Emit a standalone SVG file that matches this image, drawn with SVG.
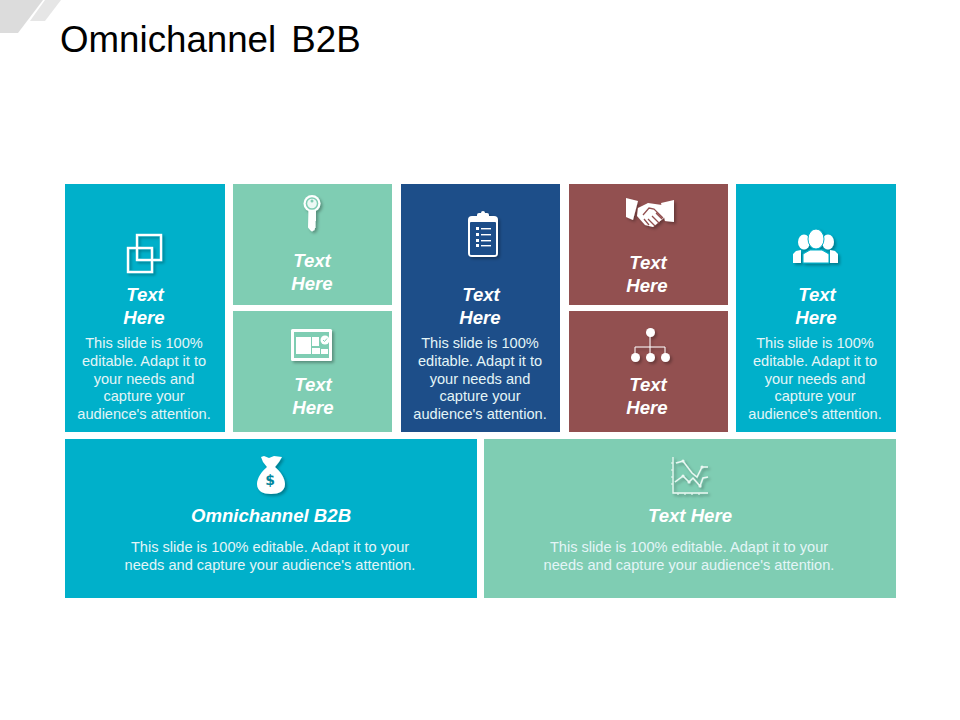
<svg xmlns="http://www.w3.org/2000/svg" width="960" height="720" viewBox="0 0 960 720">
<style>
text{font-family:"Liberation Sans",Arial,sans-serif;text-anchor:middle;fill:#fff}
.h{font-size:18.600px;font-weight:bold;font-style:italic}
.b{font-size:14.600px;fill:#e4f5f7}
.teal{fill:#00b0ca}.green{fill:#7fcdb3}.blue{fill:#1d4e89}.red{fill:#925050}
.ic{filter:url(#sh)}
.ol{fill:none;stroke:#fff}
</style>
<defs>
<filter id="sh" x="-30%" y="-30%" width="170%" height="170%"><feDropShadow dx="2" dy="2" stdDeviation="1.600" flood-color="#000" flood-opacity="0.3"/></filter>
</defs>
<rect width="960" height="720" fill="#fff"/>
<g id="corner">
<polygon points="0,0 43,0 18,33 0,33" fill="#dcdcdc"/>
<polygon points="45,0 61,0 45,21 30,21" fill="#e6e6e6"/>
</g>
<text id="title" x="60" y="52" style="text-anchor:start;fill:#000;font-size:36.700px;word-spacing:5px">Omnichannel B2B</text>

<g id="card-1">
<rect class="teal" x="65" y="184" width="160" height="248"/>
<g class="ic ol" stroke-width="2.400"><rect x="128" y="248" width="24" height="24"/><rect x="137" y="235" width="24" height="25"/></g>
<text class="h" x="145" y="301">Text</text><text class="h" x="144" y="324">Here</text>
<text class="b" x="144" y="348">This slide is 100%</text><text class="b" x="144" y="366">editable. Adapt it to</text><text class="b" x="144" y="384">your needs and</text><text class="b" x="144" y="401">capture your</text><text class="b" x="144" y="419">audience's attention.</text>
</g>

<g id="card-2">
<rect class="green" x="233" y="184" width="159" height="121"/>
<g class="ic"><path fill="#fff" d="M308.500 208h7.500v13l-1 1 1 1-1 1 1 1-1 1 1 1-1 1-.5 2-2.500 1.500-1.500-1-2.500-3z"/><circle cx="312" cy="203.500" r="8.500" fill="#fff"/><circle cx="312" cy="203.500" r="6.300" fill="#7fcdb3"/><circle cx="312" cy="203.500" r="4.800" fill="#eef9f5"/><circle cx="312" cy="201" r="1.500" fill="#7fcdb3"/></g>
<text class="h" x="312" y="267">Text</text><text class="h" x="312" y="290">Here</text>
</g>

<g id="card-3">
<rect class="green" x="233" y="311" width="159" height="121"/>
<g class="ic"><rect x="291" y="329" width="41" height="32" rx="1.500" fill="#fff"/><rect x="294" y="332" width="35" height="26" fill="#7fcdb3"/><rect x="296" y="337" width="15" height="17" fill="#fff"/><rect x="312" y="337" width="7" height="9" fill="#fff"/><rect x="312" y="348" width="8" height="6" fill="#fff"/><rect x="321" y="349" width="7" height="5" fill="#fff"/><circle cx="325" cy="340" r="4.500" fill="#fff"/><path d="M323 340l1.500 1.500 2.500-3" fill="none" stroke="#7fcdb3" stroke-width="1"/></g>
<text class="h" x="313" y="391">Text</text><text class="h" x="313" y="414">Here</text>
</g>

<g id="card-4">
<rect class="blue" x="401" y="184" width="159" height="248"/>
<g class="ic"><rect x="468" y="216" width="30" height="41" rx="4" fill="#fff"/><rect x="470" y="222" width="26" height="33" rx="1" fill="#1d4e89"/><rect x="477" y="213" width="12" height="6" rx="2" fill="#fff"/><circle cx="483" cy="213" r="2" fill="#fff"/>
<g fill="#fff"><rect x="476" y="227" width="3" height="3"/><rect x="476" y="233" width="3" height="3"/><rect x="476" y="239" width="3" height="3"/><rect x="476" y="244" width="3" height="3"/><rect x="481" y="228" width="10" height="1.400"/><rect x="481" y="234" width="10" height="1.400"/><rect x="481" y="240" width="10" height="1.400"/><rect x="481" y="245" width="10" height="1.400"/></g></g>
<text class="h" x="481" y="301">Text</text><text class="h" x="480" y="324">Here</text>
<text class="b" x="480" y="348">This slide is 100%</text><text class="b" x="480" y="366">editable. Adapt it to</text><text class="b" x="480" y="384">your needs and</text><text class="b" x="480" y="401">capture your</text><text class="b" x="480" y="419">audience's attention.</text>
</g>

<g id="card-5">
<rect class="red" x="569" y="184" width="159" height="121"/>
<g class="ic"><path fill="#fff" d="M626 198l12 3-5 19-7-3zM661 203l13-3v22l-9-1zM638 208l10-5 14 2 3 12-12 10-8-2-8-9z"/><path fill="none" stroke="#925050" stroke-width="1.300" d="M643 215l6-7 5 1 9 9M648 219l7 7M652 216l7 7M656 213l6 6M644 219l5 6"/></g>
<text class="h" x="648" y="269">Text</text><text class="h" x="647" y="292">Here</text>
</g>

<g id="card-6">
<rect class="red" x="569" y="311" width="159" height="121"/>
<g class="ic"><path class="ol" stroke-width="1" d="M650 333v24M635 357v-10h30v10"/><g fill="#fff"><circle cx="650.500" cy="332.500" r="4.500"/><circle cx="635.500" cy="357.500" r="4.500"/><circle cx="650.500" cy="357.500" r="4.500"/><circle cx="665.500" cy="357.500" r="4.500"/></g></g>
<text class="h" x="648" y="391">Text</text><text class="h" x="647" y="414">Here</text>
</g>

<g id="card-7">
<rect class="teal" x="736" y="184" width="160" height="248"/>
<g class="ic" fill="#fff"><ellipse cx="804" cy="242" rx="6" ry="7.500"/><ellipse cx="828" cy="242" rx="6" ry="7.500"/><path d="M793 263v-9l3-3 5-1v13zM838 263v-9l-3-3-5-1v13z"/><path d="M803 263v-9l7-4h12l7 4v9z" stroke="#00b0ca" stroke-width="1"/><ellipse cx="816" cy="239" rx="8" ry="10" stroke="#00b0ca" stroke-width="1"/></g>
<text class="h" x="817" y="301">Text</text><text class="h" x="816" y="324">Here</text>
<text class="b" x="815" y="348">This slide is 100%</text><text class="b" x="815" y="366">editable. Adapt it to</text><text class="b" x="815" y="384">your needs and</text><text class="b" x="815" y="401">capture your</text><text class="b" x="815" y="419">audience's attention.</text>
</g>

<g id="card-8">
<rect class="teal" x="65" y="439" width="412" height="159"/>
<g class="ic"><path fill="#fff" d="M264 456l5 2 5-2 8 1-3 5-4 5c5 4 10 11 10 17 0 7-6 10-14 10s-14-3-14-10c0-6 5-13 10-17l-4-5-2-5z"/></g>
<text x="270" y="485" style="font-size:14px;font-weight:bold;fill:#00869c;font-family:'DejaVu Sans',sans-serif">$</text>
<text class="h" x="271" y="522">Omnichannel B2B</text>
<text class="b" x="270" y="552">This slide is 100% editable. Adapt it to your</text><text class="b" x="270" y="570">needs and capture your audience's attention.</text>
</g>

<g id="card-9">
<rect class="green" x="484" y="439" width="412" height="159"/>
<g class="ic"><g fill="none" stroke="#eaf7f2"><path stroke-width="1.300" d="M673 457v36h35"/><path stroke-width="1" d="M671 463h2M671 470h2M671 477h2M671 484h2M678 493v2M685 493v2M692 493v2M699 493v2"/><path stroke-width="1.500" d="M676 463l7-2 9 12 5 4 5-10h6M675 482l8-6 6 6 4-4 7 8 3-8 5-1"/></g><g fill="#eaf7f2"><circle cx="683" cy="461" r="1.500"/><circle cx="702" cy="467" r="1.500"/><circle cx="683" cy="476" r="1.500"/><circle cx="689" cy="482" r="1.500"/><circle cx="700" cy="486" r="1.500"/></g></g>
<text class="h" x="690" y="522">Text Here</text>
<text class="b" x="689" y="552">This slide is 100% editable. Adapt it to your</text><text class="b" x="689" y="570">needs and capture your audience's attention.</text>
</g>
</svg>
